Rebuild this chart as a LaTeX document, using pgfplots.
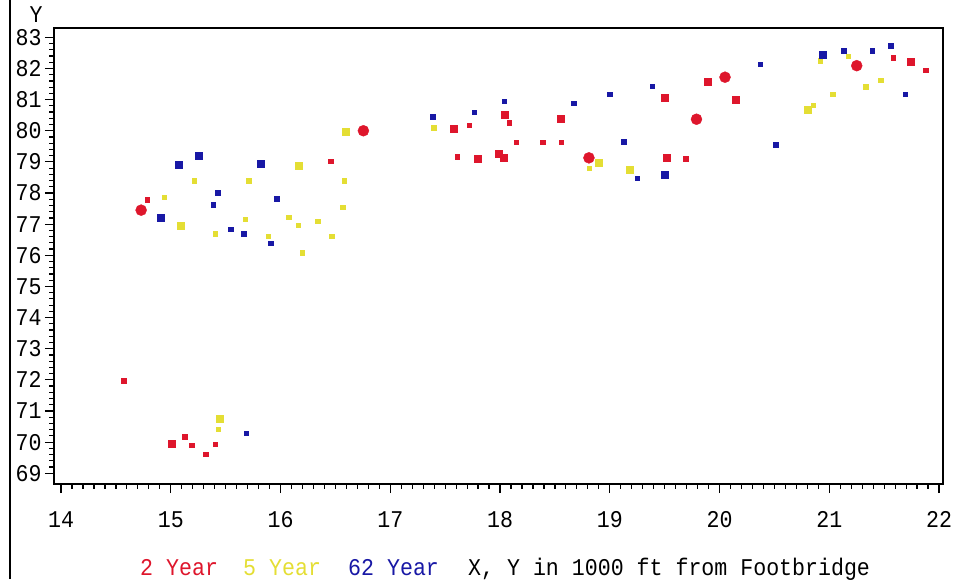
\documentclass[border=0pt]{standalone}
\usepackage{pgfplots}
\pgfplotsset{compat=1.18}
\usepackage{fontspec}
\setmainfont{Liberation Mono}[FakeStretch=0.9]
\newcommand{\sasfont}{\fontsize{24}{24}\selectfont}
\definecolor{twoyr}{RGB}{222,22,44}
\definecolor{fiveyr}{RGB}{228,222,52}
\definecolor{sixtytwoyr}{RGB}{24,24,165}
\begin{document}
\begin{tikzpicture}
\path[use as bounding box] (0,0) rectangle (954pt,579pt);
\draw[line width=2pt] (10pt,0pt) -- (10pt,579pt);
\begin{axis}[
  at={(54pt,95pt)}, anchor=south west,
  width=889pt, height=456pt, scale only axis,
  xmin=13.936, xmax=22.036, ymin=68.655, ymax=83.30,
  xtick={14,15,...,22}, ytick={69,70,...,83},
  minor x tick num=9, minor y tick num=4,
  tick align=outside, xtick pos=bottom, ytick pos=left,
  major tick length=9pt, minor tick length=4.5pt,
  axis line style={line width=1.6pt},
  every tick/.style={black, line width=1.2pt},
  /pgf/number format/assume math mode=true,
  ticklabel style={font=\sasfont},
  xticklabel style={yshift=-15pt},
  clip=false,
]
% 2 Year: small, medium and large marks
\addplot[only marks, mark=square*, mark size=2.2pt, color=twoyr] coordinates {
 (14.786,77.78) (16.457,79.02) (17.61,79.17) (17.72,80.18) (18.084,80.26)
 (18.147,79.64) (18.39,79.64) (18.56,79.64) (19.69,79.10) (21.58,82.34)
 (21.88,81.95) (14.57,71.97) (15.127,70.17) (15.19,69.91) (15.32,69.62)
 (15.406,69.93)
};
\addplot[only marks, mark=square*, mark size=3.5pt, color=twoyr] coordinates {
 (17.58,80.08) (17.80,79.10) (17.99,79.27) (18.03,79.13) (18.55,80.40)
 (19.50,81.05) (19.89,81.56) (19.52,79.13) (20.15,80.99) (21.74,82.23)
 (15.005,69.96) (18.04,80.53)
};
\addplot[only marks, mark=*, mark size=5.5pt, color=twoyr] coordinates {
 (14.73,77.45) (16.755,80.0) (18.81,79.13) (19.79,80.37) (20.05,81.72)
 (21.25,82.09)
};
% 5 Year
\addplot[only marks, mark=square*, mark size=2.2pt, color=fiveyr] coordinates {
 (15.215,78.40) (15.71,78.40) (14.94,77.86) (15.68,77.16) (15.406,76.69)
 (15.89,76.62) (16.58,78.40) (16.567,77.54) (16.075,77.23) (16.16,76.96)
 (16.34,77.09) (16.466,76.62) (16.2,76.08) (17.395,80.10) (18.81,78.79)
 (20.915,82.25) (21.17,82.40) (21.47,81.63) (21.33,81.41) (21.03,81.18)
 (20.855,80.83) (15.43,70.42)
};
\addplot[only marks, mark=square*, mark size=3.5pt, color=fiveyr] coordinates {
 (15.093,76.95) (16.17,78.89) (16.597,79.96) (18.90,78.97) (19.18,78.76)
 (20.80,80.67) (15.45,70.76)
};
% 62 Year
\addplot[only marks, mark=square*, mark size=2.2pt, color=sixtytwoyr] coordinates {
 (15.428,78.01) (15.385,77.62) (15.546,76.84) (15.665,76.69) (15.91,76.38)
 (15.965,77.82) (17.387,80.45) (17.763,80.59) (18.04,80.94) (18.67,80.88)
 (19.0,81.18) (19.385,81.43) (19.127,79.65) (19.25,78.47) (20.37,82.14)
 (21.13,82.57) (21.39,82.57) (21.56,82.73) (21.69,81.18) (20.51,79.55)
 (15.685,70.28)
};
\addplot[only marks, mark=square*, mark size=3.5pt, color=sixtytwoyr] coordinates {
 (15.25,79.21) (15.075,78.90) (15.816,78.93) (14.905,77.20) (19.50,78.58)
 (20.94,82.45)
};
\end{axis}
\node[anchor=base, inner sep=0pt, font=\sasfont] at (36pt,556pt) {Y};
\node[anchor=base west, inner sep=0pt, font=\sasfont, text=twoyr] at (140pt,4pt) {2 Year};
\node[anchor=base west, inner sep=0pt, font=\sasfont, text=fiveyr] at (243pt,4pt) {5 Year};
\node[anchor=base west, inner sep=0pt, font=\sasfont, text=sixtytwoyr] at (348pt,4pt) {62 Year};
\node[anchor=base west, inner sep=0pt, font=\sasfont] at (468pt,4pt) {X, Y in 1000 ft from Footbridge};
\end{tikzpicture}
\end{document}
